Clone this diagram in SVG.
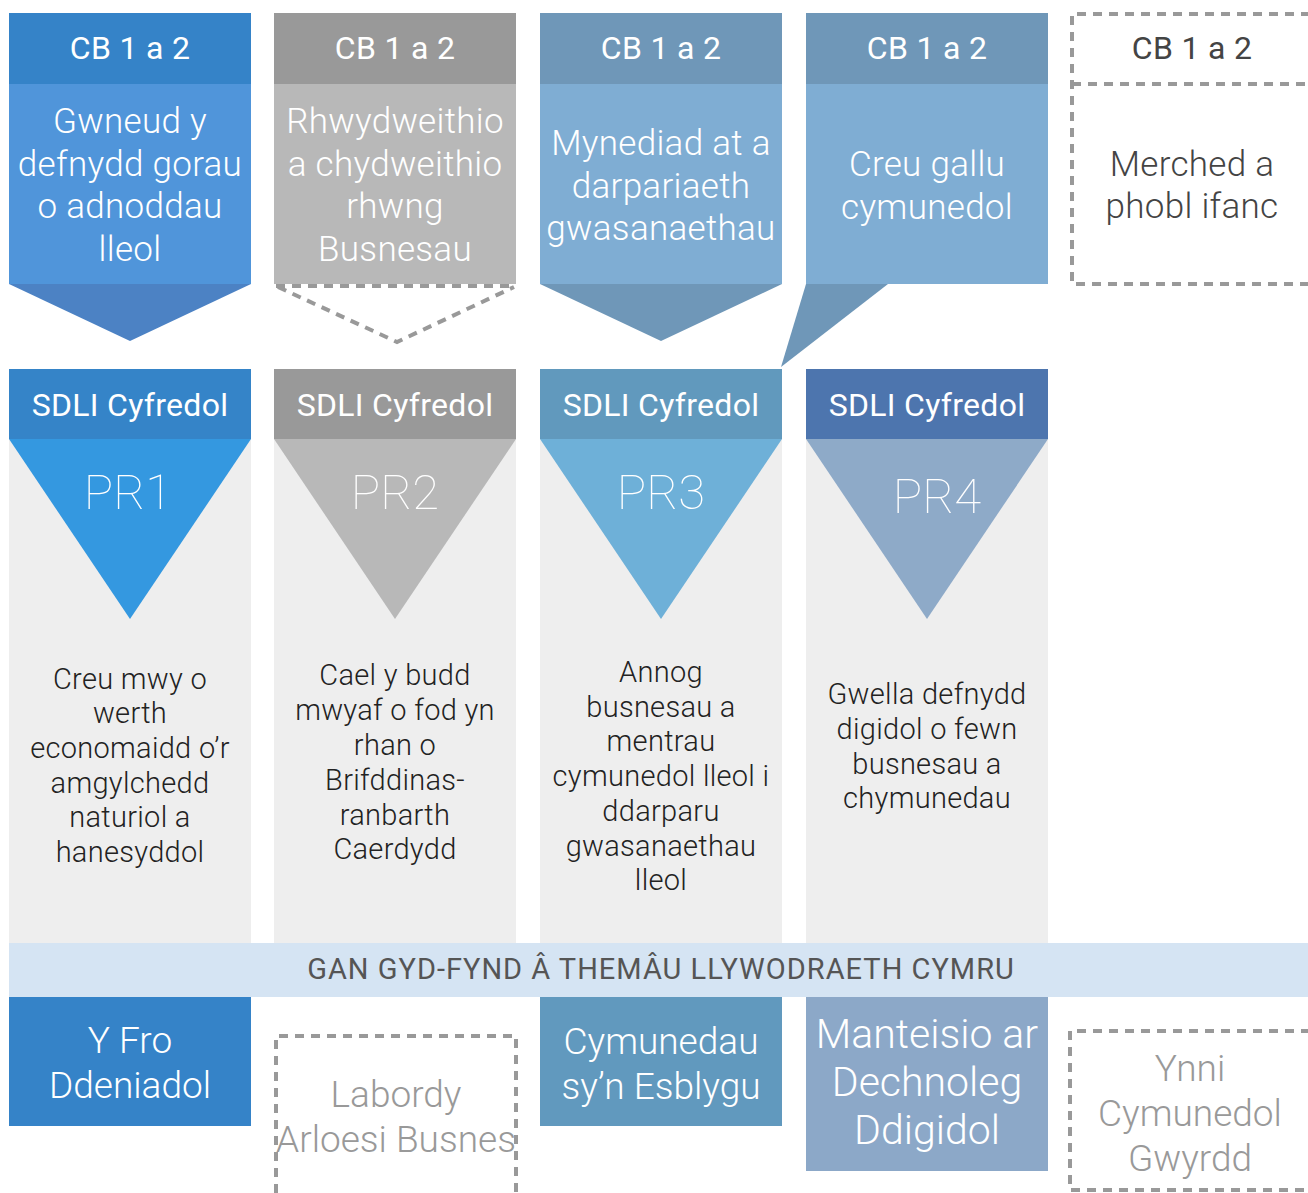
<svg xmlns="http://www.w3.org/2000/svg" width="1308" height="1193" viewBox="0 0 1308 1193">
<style>
text{font-family:Roboto,"Liberation Sans",sans-serif;text-anchor:middle}
.hd{font-size:32px;fill:#fff;font-weight:400;letter-spacing:0.3px}
.bd{font-size:35px;fill:#fff;font-weight:300;letter-spacing:0.3px}
.pr{font-size:49px;fill:#fff;font-weight:100}
.tx{font-size:29px;fill:#222;font-weight:300;letter-spacing:0.3px}
.bt{font-size:37px;fill:#fff;font-weight:300}
.gr{fill:#999}
.dash{fill:none;stroke:#999;stroke-width:4;stroke-dasharray:9 7}
</style>
<rect width="1308" height="1193" fill="#fff"/>
<g id="connectors">
<polygon points="9,284 251,284 130,341" fill="#4c82c4"/>
<polyline class="dash" points="278,287 397,342 514,287"/>
<polygon points="540,284 782,284 661,341" fill="#6f97b8"/>
<polygon points="806,284 888,284 781,367" fill="#6f97b8"/>
</g>
<g id="cb1">
<rect x="9" y="13" width="242" height="71" fill="#3583c8"/>
<rect x="9" y="84" width="242" height="200" fill="#5095da"/>
<text class="hd" x="130" y="59">CB 1 a 2</text>
<text class="bd" x="130" y="133">Gwneud y</text>
<text class="bd" x="130" y="176">defnydd gorau</text>
<text class="bd" x="130" y="218">o adnoddau</text>
<text class="bd" x="130" y="261">lleol</text>
</g>
<g id="cb2">
<rect x="274" y="13" width="242" height="71" fill="#999"/>
<rect x="274" y="84" width="242" height="200" fill="#b8b8b8"/>
<line class="dash" x1="276" y1="286" x2="516" y2="286"/>
<text class="hd" x="395" y="59">CB 1 a 2</text>
<text class="bd" x="395" y="133">Rhwydweithio</text>
<text class="bd" x="395" y="176">a chydweithio</text>
<text class="bd" x="395" y="218">rhwng</text>
<text class="bd" x="395" y="261">Busnesau</text>
</g>
<g id="cb3">
<rect x="540" y="13" width="242" height="71" fill="#6f97b8"/>
<rect x="540" y="84" width="242" height="200" fill="#7fadd3"/>
<text class="hd" x="661" y="59">CB 1 a 2</text>
<text class="bd" x="661" y="155">Mynediad at a</text>
<text class="bd" x="661" y="198">darpariaeth</text>
<text class="bd" x="661" y="240">gwasanaethau</text>
</g>
<g id="cb4">
<rect x="806" y="13" width="242" height="71" fill="#6f97b8"/>
<rect x="806" y="84" width="242" height="200" fill="#7fadd3"/>
<text class="hd" x="927" y="59">CB 1 a 2</text>
<text class="bd" x="927" y="176">Creu gallu</text>
<text class="bd" x="927" y="219">cymunedol</text>
</g>
<g id="cb5">
<path class="dash" d="M1310,14 H1072 V284 H1310"/>
<line class="dash" x1="1072" y1="84" x2="1310" y2="84" stroke-dasharray="14 3"/>
<text class="hd" x="1192" y="59" style="fill:#444">CB 1 a 2</text>
<text class="bd" x="1192" y="176" style="fill:#444">Merched a</text>
<text class="bd" x="1192" y="218" style="fill:#444">phobl ifanc</text>
</g>
<g id="pr1">
<rect x="9" y="439" width="242" height="504" fill="#eee"/>
<rect x="9" y="369" width="242" height="70" fill="#3584c8"/>
<polygon points="9,439 251,439 130,619" fill="#3498e0"/>
<text class="hd" x="130" y="416">SDLI Cyfredol</text>
<text class="pr" x="128" y="509">PR1</text>
<text class="tx" x="130" y="689">Creu mwy o</text>
<text class="tx" x="130" y="723">werth</text>
<text class="tx" x="130" y="758">economaidd o’r</text>
<text class="tx" x="130" y="793">amgylchedd</text>
<text class="tx" x="130" y="827">naturiol a</text>
<text class="tx" x="130" y="862">hanesyddol</text>
</g>
<g id="pr2">
<rect x="274" y="439" width="242" height="504" fill="#eee"/>
<rect x="274" y="369" width="242" height="70" fill="#999"/>
<polygon points="274,439 516,439 395,619" fill="#b8b8b8"/>
<text class="hd" x="395" y="416">SDLI Cyfredol</text>
<text class="pr" x="395" y="509">PR2</text>
<text class="tx" x="395" y="685">Cael y budd</text>
<text class="tx" x="395" y="720">mwyaf o fod yn</text>
<text class="tx" x="395" y="755">rhan o</text>
<text class="tx" x="395" y="790">Brifddinas-</text>
<text class="tx" x="395" y="825">ranbarth</text>
<text class="tx" x="395" y="859">Caerdydd</text>
</g>
<g id="pr3">
<rect x="540" y="439" width="242" height="504" fill="#eee"/>
<rect x="540" y="369" width="242" height="70" fill="#6199bd"/>
<polygon points="540,439 782,439 661,619" fill="#6eb0d8"/>
<text class="hd" x="661" y="416">SDLI Cyfredol</text>
<text class="pr" x="661" y="509">PR3</text>
<text class="tx" x="661" y="682">Annog</text>
<text class="tx" x="661" y="717">busnesau a</text>
<text class="tx" x="661" y="751">mentrau</text>
<text class="tx" x="661" y="786">cymunedol lleol i</text>
<text class="tx" x="661" y="821">ddarparu</text>
<text class="tx" x="661" y="856">gwasanaethau</text>
<text class="tx" x="661" y="890">lleol</text>
</g>
<g id="pr4">
<rect x="806" y="439" width="242" height="504" fill="#eee"/>
<rect x="806" y="369" width="242" height="70" fill="#4d75ae"/>
<polygon points="806,439 1048,439 927,619" fill="#8eaac8"/>
<text class="hd" x="927" y="416">SDLI Cyfredol</text>
<text class="pr" x="937" y="513">PR4</text>
<text class="tx" x="927" y="704">Gwella defnydd</text>
<text class="tx" x="927" y="739">digidol o fewn</text>
<text class="tx" x="927" y="774">busnesau a</text>
<text class="tx" x="927" y="808">chymunedau</text>
</g>
<g id="band">
<rect x="9" y="943" width="1299" height="54" fill="#d5e4f3"/>
<text x="661" y="979" style="font-size:29px;fill:#555;font-weight:400;letter-spacing:1px">GAN GYD-FYND Â THEMÂU LLYWODRAETH CYMRU</text>
</g>
<g id="theme1">
<rect x="9" y="997" width="242" height="129" fill="#3583c8"/>
<text class="bt" x="130" y="1053">Y Fro</text>
<text class="bt" x="130" y="1098">Ddeniadol</text>
</g>
<g id="theme2">
<path class="dash" d="M276,1193 V1036 H516 V1193"/>
<text class="bt gr" x="396" y="1107">Labordy</text>
<text class="bt gr" x="396" y="1152">Arloesi Busnes</text>
</g>
<g id="theme3">
<rect x="540" y="997" width="242" height="129" fill="#6199be"/>
<text class="bt" x="661" y="1054">Cymunedau</text>
<text class="bt" x="661" y="1099">sy’n Esblygu</text>
</g>
<g id="theme4">
<rect x="806" y="997" width="242" height="174" fill="#8ca8c8"/>
<text class="bt" x="927" y="1048" style="font-size:41px">Manteisio ar</text>
<text class="bt" x="927" y="1096" style="font-size:41px">Dechnoleg</text>
<text class="bt" x="927" y="1144" style="font-size:41px">Ddigidol</text>
</g>
<g id="theme5">
<path class="dash" d="M1310,1031 H1070 V1190 H1310"/>
<text class="bt gr" x="1190" y="1081">Ynni</text>
<text class="bt gr" x="1190" y="1126">Cymunedol</text>
<text class="bt gr" x="1190" y="1171">Gwyrdd</text>
</g>
</svg>
